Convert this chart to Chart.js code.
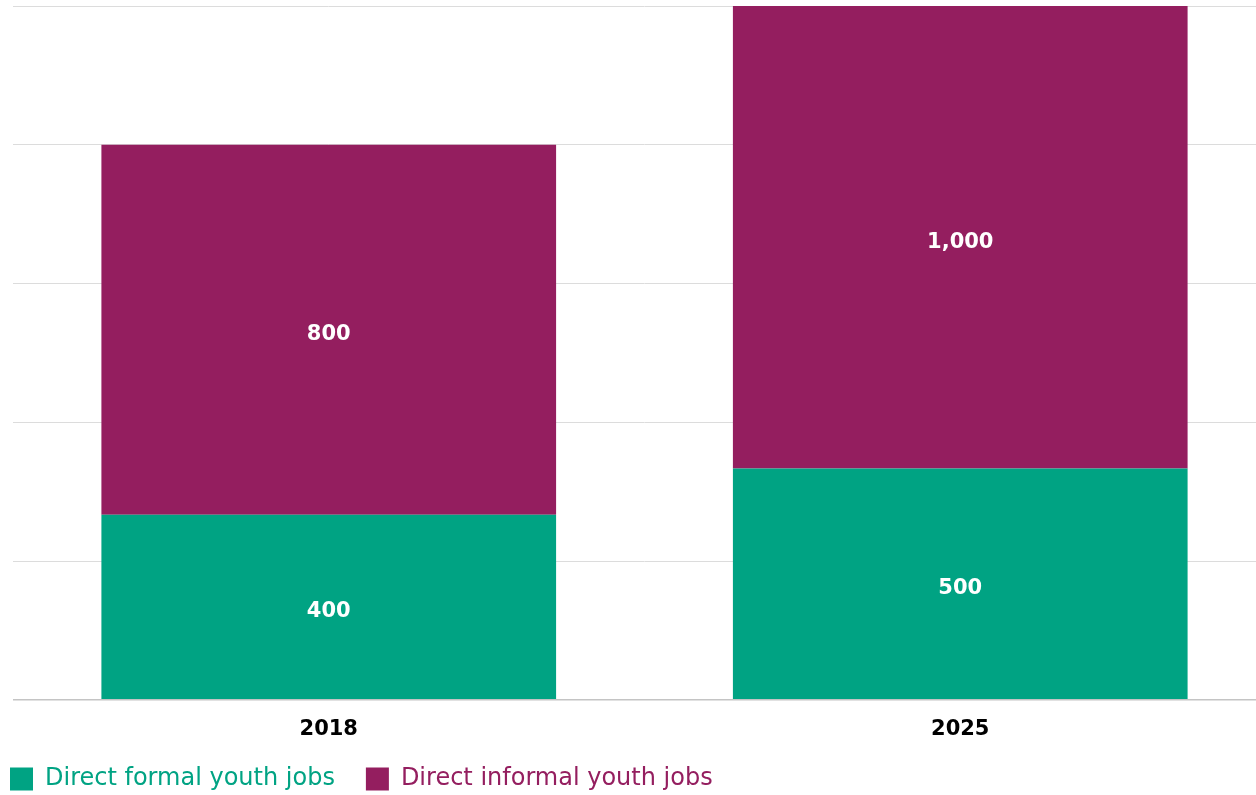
<!DOCTYPE html>
<html>
<head>
<meta charset="utf-8">
<script src="https://cdn.jsdelivr.net/npm/chart.js@4/dist/chart.umd.min.js"></script>
<style>
  html, body { margin: 0; padding: 0; background: #fff; overflow: hidden; }
  #wrap { width: 1256px; height: 795px; overflow: hidden; position: relative; }
  #box { width: 1276px; height: 795px; position: absolute; left: 0; top: 0; }
</style>
</head>
<body>
<div id="wrap"><div id="box"><canvas id="myChart"></canvas></div></div>
<script>
var years = ['2018', '2025'];
var formalJobs = [400, 500];
var informalJobs = [800, 1000];
var yTicks = [0, 300, 600, 900, 1200, 1500];

var green = '#00a383';
var purple = '#941e5f';

// white numbers in the middle of each segment
var barLabels = {
    id: 'barLabels',
    afterDatasetsDraw: function(chart) {
        var ctx = chart.ctx;
        ctx.save();
        ctx.fillStyle = '#fff';
        ctx.font = 'bold 21px "DejaVu Sans"';
        ctx.textAlign = 'center';
        ctx.textBaseline = 'middle';
        chart.data.datasets.forEach(function(ds, i) {
            chart.getDatasetMeta(i).data.forEach(function(bar, j) {
                var mid = (bar.y + bar.base) / 2;
                ctx.fillText(ds.data[j].toLocaleString('en-US'), bar.x, mid + 5);
            });
        });
        ctx.restore();
    }
};

var ctx = document.getElementById('myChart').getContext('2d');
var myChart = new Chart(ctx, {
    type: 'bar',
    data: {
        labels: years,
        datasets: [{
            label: 'Direct formal youth jobs',
            data: formalJobs,
            backgroundColor: green
        }, {
            label: 'Direct informal youth jobs',
            data: informalJobs,
            backgroundColor: purple
        }]
    },
    options: {
        responsive: true,
        maintainAspectRatio: false,
        animation: false,
        layout: { padding: { left: -21, top: 6, right: 0, bottom: -6 } },
        datasets: { bar: { categoryPercentage: 1, barPercentage: 0.72 } },
        scales: {
            x: {
                stacked: true,
                grid: { display: false, drawTicks: false },
                border: { display: false },
                afterFit: function(axis) { axis.height -= 23; },
                ticks: {
                    color: '#000',
                    padding: 17,
                    font: { family: 'DejaVu Sans', size: 21, weight: 'bold' }
                }
            },
            y: {
                stacked: true,
                min: 0,
                max: 1500,
                afterBuildTicks: function(axis) {
                    axis.ticks = yTicks.map(function(v) { return { value: v }; });
                },
                afterFit: function(axis) { axis.width = 34; },
                ticks: { display: false },
                border: { display: false },
                grid: {
                    drawTicks: false,
                    color: function(c) { return c.tick && c.tick.value === 0 ? '#c4c4c4' : '#dcdcdc'; },
                    lineWidth: function(c) { return c.tick && c.tick.value === 0 ? 1.5 : 1; }
                }
            }
        },
        plugins: {
            tooltip: { enabled: false },
            legend: {
                position: 'bottom',
                align: 'start',
                labels: {
                    boxWidth: 23,
                    boxHeight: 23,
                    padding: 31,
                    font: { family: 'DejaVu Sans', size: 24 },
                    generateLabels: function(chart) {
                        return chart.data.datasets.map(function(ds, i) {
                            return {
                                text: ds.label,
                                fillStyle: ds.backgroundColor,
                                strokeStyle: ds.backgroundColor,
                                lineWidth: 0,
                                fontColor: ds.backgroundColor,
                                datasetIndex: i
                            };
                        });
                    }
                }
            }
        }
    },
    plugins: [barLabels]
});
</script>
</body>
</html>
